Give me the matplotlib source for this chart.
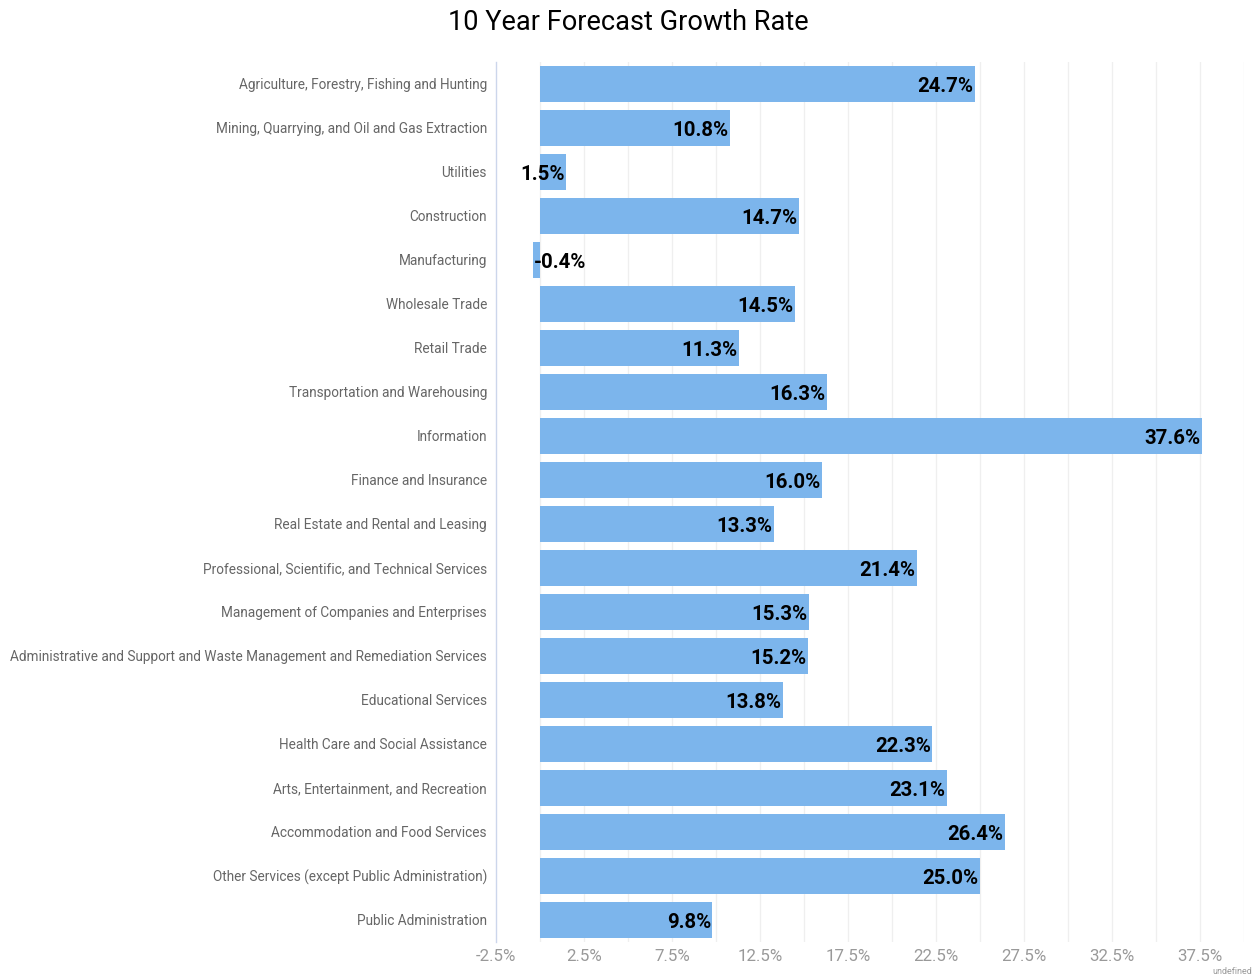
import matplotlib.pyplot as plt
import numpy as np

plt.rcParams['font.family'] = ['Roboto', 'DejaVu Sans']

categories = [
    "Agriculture, Forestry, Fishing and Hunting",
    "Mining, Quarrying, and Oil and Gas Extraction",
    "Utilities",
    "Construction",
    "Manufacturing",
    "Wholesale Trade",
    "Retail Trade",
    "Transportation and Warehousing",
    "Information",
    "Finance and Insurance",
    "Real Estate and Rental and Leasing",
    "Professional, Scientific, and Technical Services",
    "Management of Companies and Enterprises",
    "Administrative and Support and Waste Management and Remediation Services",
    "Educational Services",
    "Health Care and Social Assistance",
    "Arts, Entertainment, and Recreation",
    "Accommodation and Food Services",
    "Other Services (except Public Administration)",
    "Public Administration",
]
growth = [24.7, 10.8, 1.5, 14.7, -0.4, 14.5, 11.3, 16.3, 37.6, 16.0,
          13.3, 21.4, 15.3, 15.2, 13.8, 22.3, 23.1, 26.4, 25.0, 9.8]
tick_values = [-2.5, 2.5, 7.5, 12.5, 17.5, 22.5, 27.5, 32.5, 37.5]

fig = plt.figure(figsize=(12.55, 9.74), dpi=100)
ax = fig.add_axes([496 / 1255, 1 - 942 / 974, 748 / 1255, 880 / 974])

y = np.arange(len(categories))
ax.barh(y, growth, height=0.82, color='#7cb5ec', zorder=2)
ax.set_ylim(len(categories) - 0.5, -0.5)
ax.set_xlim(-2.5, 40)

# grid every 2.5%, labels only every 5%
for gx in np.arange(0, 40.1, 2.5):
    ax.axvline(gx, color='#efefef', linewidth=0.9, zorder=0)

# value labels at the end of each bar
for yi, v in zip(y, growth):
    if v >= 0:
        ax.annotate(f"{v:.1f}%", (v, yi), xytext=(-1, -1.5), textcoords='offset points',
                    ha='right', va='center', fontsize=14.7, fontweight='bold', color='black', zorder=3)
    else:
        ax.annotate(f"{v:.1f}%", (v, yi), xytext=(0.5, -1.5), textcoords='offset points',
                    ha='left', va='center', fontsize=14.7, fontweight='bold', color='black', zorder=3)

ax.set_yticks(y)
ax.set_yticklabels(categories, fontsize=9.8, color='#666666')
ax.set_xticks(tick_values)
ax.set_xticklabels([f"{t}%" for t in tick_values], fontsize=12.2, color='#999999')
ax.tick_params(axis='both', which='both', length=0)
ax.tick_params(axis='y', pad=6.5)
ax.tick_params(axis='x', pad=5)

for side in ['top', 'right', 'bottom']:
    ax.spines[side].set_visible(False)
ax.spines['left'].set_color('#ccd6eb')
ax.spines['left'].set_linewidth(1)

fig.text(628 / 1255, 1 - 22 / 974, "10 Year Forecast Growth Rate", ha='center', va='center',
         fontsize=19.5, color='#000000')
fig.text(1252 / 1255, 1 - 971 / 974, "undefined", ha='right', va='center', fontsize=6.5, color='#999999')

fig.savefig("out.png", dpi=100)
